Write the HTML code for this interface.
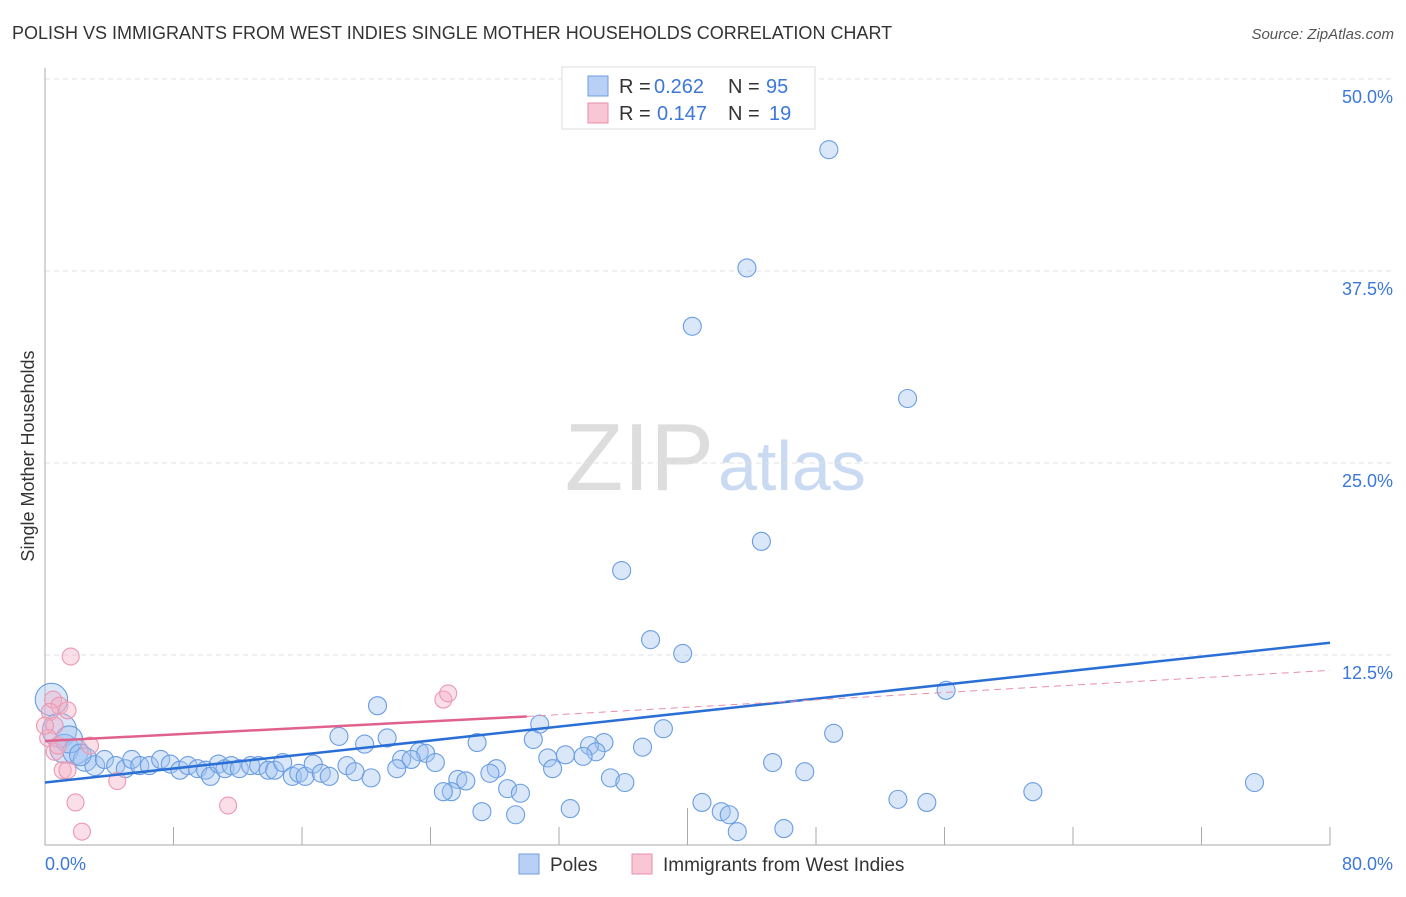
<!DOCTYPE html>
<html><head><meta charset="utf-8"><style>
body{margin:0;background:#fff;font-family:"Liberation Sans",sans-serif;}
svg text{font-family:"Liberation Sans",sans-serif;}
</style></head><body>
<svg id="chart" width="1406" height="892" viewBox="0 0 1406 892">
<text x="12" y="39" font-size="18" fill="#333">POLISH VS IMMIGRANTS FROM WEST INDIES SINGLE MOTHER HOUSEHOLDS CORRELATION CHART</text>
<text x="1394" y="39" font-size="15" fill="#555" font-style="italic" text-anchor="end">Source: ZipAtlas.com</text>
<text x="34" y="456" font-size="18" fill="#333" text-anchor="middle" transform="rotate(-90 34 456)">Single Mother Households</text>
<text x="714" y="490" font-size="96" fill="#ddd" text-anchor="end" font-family="Liberation Serif">ZIP</text>
<text x="718" y="490" font-size="70" fill="#c9daf2">atlas</text>
<g id="grid"></g>
<g id="axes"></g>
<g id="pts"></g>
<g id="lines"></g>
<g>
<rect x="562" y="67" width="253" height="62" fill="#fff" stroke="#ddd"/>
<rect x="588" y="76" width="20" height="20" fill="#b8d0f5" stroke="#6f9de0"/>
<rect x="588" y="103" width="20" height="20" fill="#f8c6d4" stroke="#e88fa9"/>
<text x="619" y="93" font-size="20" fill="#333">R =</text>
<text x="654" y="93" font-size="20" fill="#3b78d8">0.262</text>
<text x="728" y="93" font-size="20" fill="#333">N =</text>
<text x="766" y="93" font-size="20" fill="#3b78d8">95</text>
<text x="619" y="120" font-size="20" fill="#333">R =</text>
<text x="657" y="120" font-size="20" fill="#3b78d8">0.147</text>
<text x="728" y="120" font-size="20" fill="#333">N =</text>
<text x="769" y="120" font-size="20" fill="#3b78d8">19</text>
</g>
<g>
<rect x="519" y="854" width="20" height="20" fill="#b8d0f5" stroke="#6f9de0"/>
<text x="550" y="871" font-size="19" fill="#333">Poles</text>
<rect x="632" y="854" width="20" height="20" fill="#f8c6d4" stroke="#e88fa9"/>
<text x="663" y="871" font-size="19" fill="#333">Immigrants from West Indies</text>
</g>
</svg>
<script>
const yTicks=[12.5,25.0,37.5,50.0];
const xTickVals=[0,8,16,24,32,40,48,56,64,72,80];
const polesX=[48.8,43.7,40.3,53.7,44.6,35.9,37.7,39.7,56.1,20.7,30.8,38.5,49.1,18.3,21.3,30.4,26.9,34.8,33.9,19.9,37.2,23.3,23.7,34.3,31.3,32.4,33.5,22.2,22.8,24.3,45.3,28.1,31.6,47.3,27.7,21.9,18.8,20.3,19.3,25.7,26.2,35.2,36.1,28.8,29.6,25.3,24.8,27.2,29.3,32.7,40.9,42.1,42.6,43.1,46.0,53.1,54.9,61.5,75.3,0.4,0.9,1.2,1.9,2.5,3.1,3.7,4.4,5.0,5.4,5.9,6.5,7.2,7.8,8.4,8.9,9.5,10.0,10.3,10.8,11.2,11.6,12.1,12.8,13.3,13.9,14.3,14.8,15.4,15.8,16.2,16.7,17.2,17.7,1.5,2.2];
const polesY=[45.4,37.7,33.9,29.2,19.9,18.0,13.5,12.6,10.2,9.2,8.0,7.7,7.4,7.2,7.1,7.0,6.8,6.8,6.6,6.7,6.5,6.2,6.1,6.2,5.8,6.0,5.9,5.7,5.7,5.5,5.5,5.1,5.1,4.9,4.8,5.1,5.3,4.5,4.9,4.4,4.3,4.5,4.2,3.8,3.5,3.6,3.6,2.3,2.1,2.5,2.9,2.3,2.1,1.0,1.2,3.1,2.9,3.6,4.2,9.6,7.6,6.4,6.2,5.7,5.3,5.7,5.3,5.1,5.7,5.3,5.3,5.7,5.4,5.0,5.3,5.1,5.0,4.6,5.4,5.1,5.3,5.1,5.3,5.3,5.0,5.0,5.5,4.6,4.8,4.6,5.4,4.8,4.6,7.0,6.0];
const polesSize=[1,1,1,1,1,1,1,1,1,1,1,1,1,1,1,1,1,1,1,1,1,1,1,1,1,1,1,1,1,1,1,1,1,1,1,1,1,1,1,1,1,1,1,1,1,1,1,1,1,1,1,1,1,1,1,1,1,1,1,1.8,1.9,1.6,1.4,1.3,1.1,1,1,1,1,1,1,1,1,1,1,1,1,1,1,1,1,1,1,1,1,1,1,1,1,1,1,1,1,1.5,1.2];
const wiX=[1.6,0.5,0.9,1.4,0.3,0.6,0.2,0.6,1.1,1.4,1.9,2.3,4.5,11.4,24.8,25.1,0.8,2.8,0.0];
const wiY=[12.4,9.6,9.2,8.9,8.8,7.9,7.1,6.2,5.0,5.0,2.9,1.0,4.3,2.7,9.6,10.0,6.6,6.6,7.9];
const polesLine=[4.2,13.3];
const wiLine=[6.9,8.5,11.5];
const wiLineEnd=30;
const X=v=>45+v/80*1285, Y=v=>847-v/12.5*192;
const NS='http://www.w3.org/2000/svg';
function mk(t,a,p){const e=document.createElementNS(NS,t);for(const k in a)e.setAttribute(k,a[k]);p.appendChild(e);return e;}
const grid=document.getElementById('grid'),axes=document.getElementById('axes'),pts=document.getElementById('pts'),lines=document.getElementById('lines');
yTicks.forEach(t=>{const l=mk('line',{x1:45,x2:1394,y1:Y(t),y2:Y(t),stroke:'#e2e2e2','stroke-dasharray':'5,4'},grid);


const tx=mk('text',{x:1393,y:Y(t)+24,'font-size':18,fill:'#3b78d8','text-anchor':'end'},grid);tx.textContent=t.toFixed(1)+'%';

});
const topGrid=mk('line',{x1:45,x2:1394,y1:79,y2:79,stroke:'#e2e2e2','stroke-dasharray':'5,4'},grid);


const yAx=mk('line',{x1:45,x2:45,y1:68,y2:845,stroke:'#aaa'},axes);


const xAx=mk('line',{x1:45,x2:1330,y1:845,y2:845,stroke:'#aaa'},axes);


xTickVals.forEach((t,i)=>{if(i==0)return;const tk=mk('line',{x1:X(t),x2:X(t),y1:t==40?808:827,y2:845,stroke:'#aaa'},axes);

});
[[0,'0.0%','start',45],[80,'80.0%','end',1393]].forEach(d=>{const tx=mk('text',{x:d[3],y:870,'font-size':18,fill:'#3b78d8','text-anchor':d[2]},axes);tx.textContent=d[1];

});
polesX.forEach((x,i)=>{const c=mk('circle',{cx:X(x),cy:Y(polesY[i]),r:9*polesSize[i],fill:'rgba(160,195,240,0.4)',stroke:'#6a9de2','stroke-width':1.1},pts);

});
wiX.forEach((x,i)=>{const c=mk('circle',{cx:X(x),cy:Y(wiY[i]),r:8.5,fill:'rgba(245,175,198,0.4)',stroke:'#eb98b1','stroke-width':1.1},pts);

});
const bl=mk('line',{x1:X(0),y1:Y(polesLine[0]),x2:X(80),y2:Y(polesLine[1]),stroke:'#2a6fd6','stroke-width':2.5},lines);


const pl=mk('line',{x1:X(0),y1:Y(wiLine[0]),x2:X(wiLineEnd),y2:Y(wiLine[1]),stroke:'#e0628c','stroke-width':2.5},lines);


const pd=mk('line',{x1:X(wiLineEnd),y1:Y(wiLine[1]),x2:X(80),y2:Y(wiLine[2]),stroke:'#e88fa9','stroke-width':1,'stroke-dasharray':'7,5'},lines);


</script>
</body></html>
